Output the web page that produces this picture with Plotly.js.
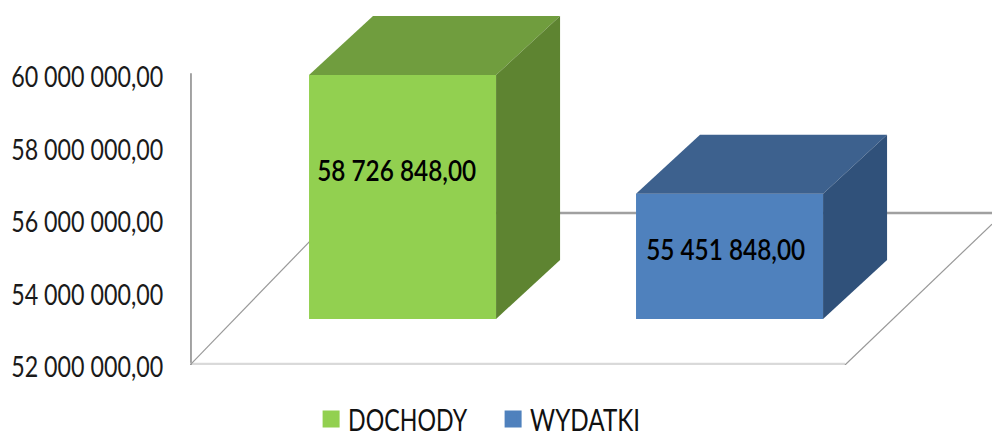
<!DOCTYPE html>
<html>
<head>
<meta charset="utf-8">
<script src="https://cdn.plot.ly/plotly-3.0.1.min.js"></script>
<style>html,body{margin:0;padding:0;background:#fff;overflow:hidden}</style>
</head>
<body>
<div id="chart" style="width:992px;height:436px"></div>
<script>
const categories = ['DOCHODY', 'WYDATKI'];
const values = [58726848, 55451848];
const labelHeights = [57380000, 55220000];
const labelShifts = [-0.016, -0.010];
const tickValues = [52000000, 54000000, 56000000, 58000000, 60000000];
const frontColors = ['#92D050', '#4F81BD'];
const topColors = ['#709D3E', '#3D618E'];
const sideColors = ['#5E8431', '#30517A'];

const axisMin = 52000000, axisMax = 62069000;
const xMin = -0.65, xMax = 1.8026;
const barWidth = 0.572;
const depthX = 64 / 327, depthY = 1630000;
const floorLift = 1270000;
const floorBackLift = 4190000;
const floorFrontRight = 1.353;
const family = 'Lato, sans-serif';

function fmt(v) {
  return String(v).replace(/\B(?=(\d{3})+$)/g, ' ') + ',00';
}

const bars = categories.map((c, i) => ({
  type: 'bar', x: [i], y: [values[i] - axisMin], base: [axisMin + floorLift],
  width: [barWidth], marker: {color: frontColors[i], line: {width: 0}}, hoverinfo: 'skip', showlegend: false
}));
const keys = categories.map((c, i) => ({
  type: 'bar', name: c, x: [null], y: [null],
  marker: {color: frontColors[i], line: {width: 5, color: frontColors[i]}}, hoverinfo: 'skip'
}));

function face(xs, ys, color) {
  return {type: 'scatter', mode: 'lines', x: xs, y: ys, fill: 'toself', fillcolor: color,
    line: {width: 0, color: color}, showlegend: false, hoverinfo: 'skip'};
}
const faces = [];
categories.forEach((c, i) => {
  const x0 = i - barWidth / 2, x1 = i + barWidth / 2;
  const t = values[i] + floorLift, b = axisMin + floorLift;
  faces.push(face([x0, x0 + depthX, x1 + depthX, x1, x0], [t, t + depthY, t + depthY, t, t], topColors[i]));
  faces.push(face([x1, x1 + depthX, x1 + depthX, x1, x1], [t, t + depthY, b + depthY, b, t], sideColors[i]));
});

const grey = '#868686';
function seg(x0, y0, x1, y1, color, w) {
  return {type: 'line', layer: 'below', xref: 'x', yref: 'y', x0, y0, x1, y1, line: {color, width: w}};
}
const slopeEnd = axisMin + floorBackLift * (141 / 152);
const shapes = [
  seg(xMin + 0.003, axisMin, xMin + 0.003, 60050000, grey, 1.5),
  seg(xMin, axisMin + 40000, floorFrontRight, axisMin + 40000, '#D9D9D9', 1.5),
  seg(xMin, axisMin - 15000, floorFrontRight, axisMin - 15000, grey, 1.5),
  seg(xMin, axisMin, xMin + 0.45, axisMin + floorBackLift, '#999999', 1.2),
  seg(floorFrontRight, axisMin, xMax, slopeEnd, '#999999', 1.2),
  seg(0, axisMin + floorBackLift, xMax, axisMin + floorBackLift, '#A0A0A0', 2.5)
];

const annotations = categories.map((c, i) => ({
  x: i + labelShifts[i], y: labelHeights[i], xref: 'x', yref: 'y', text: fmt(values[i]), showarrow: false,
  font: {family, size: 29, color: '#000', weight: 600},
  xanchor: 'center', yanchor: 'middle'
}));

const layout = {
  width: 992, height: 436,
  margin: {l: 190, r: 0, t: 0, b: 71, pad: 0},
  paper_bgcolor: '#fff', plot_bgcolor: '#fff',
  separators: ', ',
  showlegend: true,
  barmode: 'overlay',
  xaxis: {range: [xMin, xMax], visible: false, fixedrange: true},
  yaxis: {
    range: [axisMin, axisMax], tickvals: tickValues, tickformat: ',.2f',
    ticks: 'outside', ticklen: 20, tickcolor: 'rgba(0,0,0,0)', tickwidth: 1,
    showgrid: false, zeroline: false, showline: false, fixedrange: true,
    tickfont: {family, size: 29, color: '#1a1a1a'}
  },
  legend: {
    orientation: 'h', x: 0.151, xanchor: 'left', y: 0, yref: 'container', yanchor: 'bottom',
    font: {family, size: 30, color: '#111'},
    itemwidth: 30, entrywidth: 137, entrywidthmode: 'pixels',
    traceorder: 'normal', itemclick: false, itemdoubleclick: false
  },
  shapes, annotations
};

function squeeze(selector, widths, dx, dy) {
  document.querySelectorAll(selector).forEach((el, i) => {
    el.setAttribute('textLength', widths[i % widths.length]);
    el.setAttribute('lengthAdjust', 'spacingAndGlyphs');
    if (dx) el.setAttribute('x', parseFloat(el.getAttribute('x')) + dx);
    if (dy) el.setAttribute('y', parseFloat(el.getAttribute('y')) + dy);
  });
}

Plotly.newPlot('chart', bars.concat(keys, faces), layout, {displayModeBar: false, staticPlot: true}).then(() => {
  squeeze('.ytick text', [152], 0, 2);
  squeeze('.annotation-text', [159]);
  squeeze('.legendtext', [119, 110], -3);
  const legend = document.querySelector('.legend');
  const m = /translate\(([-\d.]+),\s*([-\d.]+)\)/.exec(legend.getAttribute('transform'));
  legend.setAttribute('transform', 'translate(' + m[1] + ',' + (parseFloat(m[2]) + 9) + ')');
});
</script>
</body>
</html>
